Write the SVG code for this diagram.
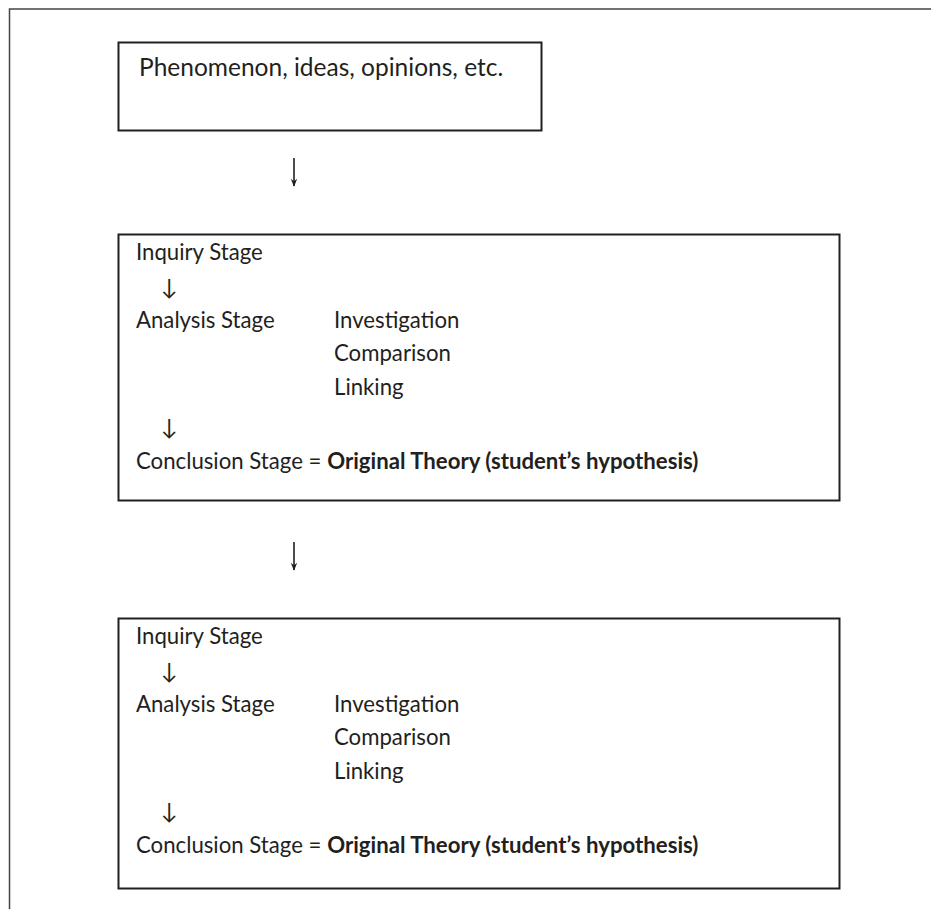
<svg xmlns="http://www.w3.org/2000/svg" width="931" height="909" viewBox="0 0 931 909">
<style>
.box{fill:#fff;stroke:#231f20;stroke-width:2}
.frame{fill:none;stroke:#444;stroke-width:1.5}
.t{font-family:Lato,"Liberation Sans",sans-serif;font-size:22.2px;fill:#231f20}
.p{font-size:24.5px}
.b{font-weight:bold}
.conn{stroke:#231f20;stroke-width:1.6;fill:none}
</style>
<defs>
<marker id="ah" viewBox="0 0 10 10" refX="9" refY="5" markerWidth="8" markerHeight="8" orient="auto" markerUnits="userSpaceOnUse">
<path d="M0,1 L10,5 L0,9 L3,5 Z" fill="#231f20"/>
</marker>
</defs>
<rect width="931" height="909" fill="#fff"/>
<path class="frame" d="M931,9 H9.5 V909"/>
<g id="connectors">
<line class="conn" x1="294" y1="158" x2="294" y2="186" marker-end="url(#ah)"/>
<line class="conn" x1="294" y1="542" x2="294" y2="570" marker-end="url(#ah)"/>
</g>
<g id="node-phenomenon">
<rect class="box" x="118.5" y="42.5" width="423" height="88"/>
<text class="t p" x="139" y="76">Phenomenon, ideas, opinions, etc.</text>
</g>
<g id="node-cycle1">
<rect class="box" x="118.5" y="234.5" width="721" height="266"/>
<text class="t" x="136" y="260">Inquiry Stage</text>
<text class="t" x="161" y="295">↓</text>
<text class="t" x="136" y="328">Analysis Stage</text>
<text class="t" x="334" y="328">Investigation</text>
<text class="t" x="334" y="361">Comparison</text>
<text class="t" x="334" y="395">Linking</text>
<text class="t" x="161" y="435">↓</text>
<text class="t" x="136" y="469">Conclusion Stage = <tspan class="b">Original Theory (student’s hypothesis)</tspan></text>
</g>
<g id="node-cycle2">
<rect class="box" x="118.5" y="618.5" width="721" height="270"/>
<text class="t" x="136" y="644">Inquiry Stage</text>
<text class="t" x="161" y="679">↓</text>
<text class="t" x="136" y="712">Analysis Stage</text>
<text class="t" x="334" y="712">Investigation</text>
<text class="t" x="334" y="745">Comparison</text>
<text class="t" x="334" y="779">Linking</text>
<text class="t" x="161" y="819">↓</text>
<text class="t" x="136" y="853">Conclusion Stage = <tspan class="b">Original Theory (student’s hypothesis)</tspan></text>
</g>
</svg>
